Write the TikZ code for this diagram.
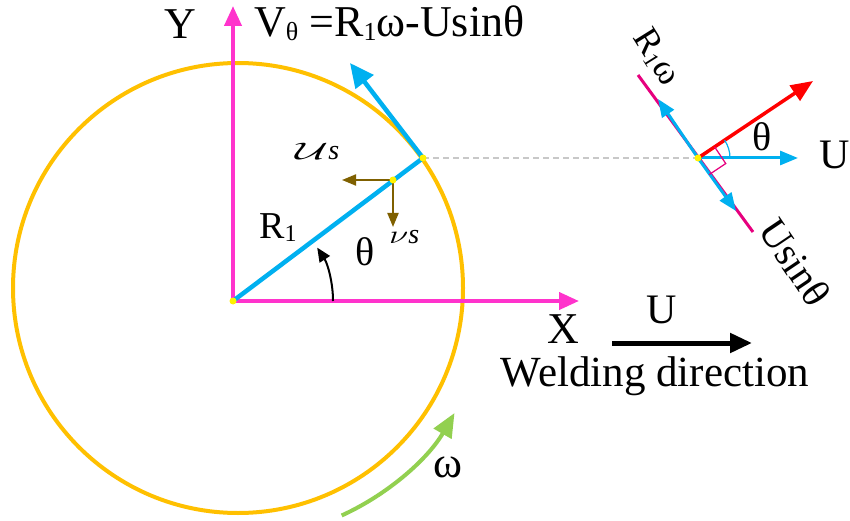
\documentclass[tikz,border=0pt]{standalone}
\usepackage{graphicx}
\usepackage{fontspec}
\setmainfont{Liberation Serif}
\usetikzlibrary{arrows.meta,calc}
\definecolor{axmag}{HTML}{FF33CC}
\definecolor{cblue}{HTML}{00B0F0}
\definecolor{corange}{HTML}{FFC000}
\definecolor{cbrown}{HTML}{7F6000}
\definecolor{cgreen}{HTML}{92D050}
\definecolor{cpink}{HTML}{E6007E}
\definecolor{cgrey}{HTML}{C8C8C8}
\newcommand{\fs}[1]{\fontsize{#1}{#1}\selectfont}
\newcommand{\lowsub}[2]{\raisebox{-0.08em}{\fs{#1}#2}}
\begin{document}
\begin{tikzpicture}[x=1pt,y=1pt,
  axis/.style={axmag,line width=4pt,-{Triangle[length=20pt,width=17pt]}},
  bluearr/.style={cblue,line width=4.5pt,-{Triangle[length=24pt,width=22pt]}},
  smallblue/.style={cblue,line width=3pt,-{Triangle[length=18pt,width=14pt]}},
  brownarr/.style={cbrown,line width=2pt,-{Triangle[length=14pt,width=11pt]}},
  ydot/.style={circle,fill=yellow,inner sep=0pt,minimum size=7pt},
  lbl/.style={inner sep=0pt,text=black}]
\useasboundingbox (0,0) rectangle (850,-521);
% key points
\coordinate (C) at (238,-288);
\coordinate (O) at (233,-301);
\coordinate (P) at (423,-158);
\coordinate (B) at (393,-180);
\coordinate (Q) at (698,-158);
\coordinate (Ytip) at (233,-6);
\coordinate (Xtip) at (579,-301);
\coordinate (Ttip) at (350,-63);
\coordinate (Bl) at (342,-180);
\coordinate (Bd) at (393,-227);
% circle
\draw[corange,line width=4pt] (C) circle[radius=225];
% axes
\draw[axis] (O) -- (Ytip);
\draw[axis] (O) -- (Xtip);
% dashed guide
\draw[cgrey,line width=1.8pt,dash pattern=on 6pt off 4pt] (P) -- (Q);
% radius line and tangent
\draw[cblue,line width=4.5pt] (O) -- (P);
\draw[bluearr] (P) -- (Ttip);
% brown components
\draw[brownarr] (B) -- (Bl);
\draw[brownarr] (B) -- (Bd);
% angle arrow
\draw[black,line width=2pt,-{Triangle[length=14pt,width=12pt]}] ($(O)+(0:100pt)$) arc[start angle=0,end angle=33,radius=98pt];
% omega arrow
\draw[cgreen,line width=4pt,-{Triangle[length=24pt,width=20pt]}] ($(C)+(-65.5:250pt)$) arc[start angle=-65.5,end angle=-30,radius=250pt];
% welding arrow
\coordinate (W1) at (612,-343);
\coordinate (W2) at (752,-343);
\draw[black,line width=5pt,-{Triangle[length=22pt,width=19pt]}] (W1) -- (W2);
% right figure
\coordinate (Pk1) at (638,-75);
\coordinate (Pk2) at (753,-232);
\coordinate (Rup) at (658,-99);
\coordinate (Rdn) at (736,-211);
\coordinate (Ur) at (798,-158);
\coordinate (Red) at (813,-81);
\draw[cpink,line width=3pt] (Pk1) -- (Pk2);
\draw[smallblue] (Q) -- (Rup);
\draw[smallblue] (Q) -- (Rdn);
\draw[smallblue] (Q) -- (Ur);
\draw[red,line width=3.5pt,-{Triangle[length=22pt,width=18pt]}] (Q) -- (Red);
\draw[cpink,line width=1.2pt] ($(Q)+(33.7:20pt)$) -- ($(Q)+(33.7:20pt)+(-56.3:20pt)$) -- ($(Q)+(-56.3:20pt)$);
\draw[cblue,line width=1.2pt] ($(Q)+(0:32pt)$) arc[start angle=0,end angle=33.7,radius=32pt];
% dots
\node[ydot] (dO) at (O) {};
\node[ydot] (dP) at (P) {};
\node[ydot] (dB) at (B) {};
\node[ydot] (dQ) at (Q) {};
% labels
\node[lbl,anchor=base] (lY) at (180,-39) {\fs{44}Y};
\node[lbl,anchor=base west] (lV) at (254,-37) {\fs{44}V\lowsub{26}{θ} =R\lowsub{26}{1}ω-Usinθ};
\node[lbl,anchor=base] (lX) at (563,-343) {\fs{44}X};
\node[lbl,anchor=base] (lU) at (662,-323) {\fs{42}U};
\node[lbl,anchor=base] (lW) at (655,-386) {\fs{43}Welding direction};
\node[lbl,anchor=base west] (lR) at (259,-238) {\fs{38}R\lowsub{24}{1}};
\node[lbl] (lth) at (365,-252) {\fs{40}θ};
\node[lbl,anchor=base west] (lus) at (295,-160) {\fs{20.74}\scalebox{2.2}[1.15]{$\mathcal{U}$}\fs{28}\itshape s};
\node[lbl,anchor=base west] (lvs) at (389,-243) {\fs{20.74}\scalebox{1.7}[1.25]{$\nu$}\fs{28}\itshape s};
\node[lbl] (lom) at (448,-467) {\fs{44}ω};
\node[lbl] (lth2) at (762,-137) {\fs{40}θ};
\node[lbl] (lU2) at (835,-155) {\fs{42}U};
\node[lbl,rotate=-58] (lRw) at (657,-57) {\fs{36}R\lowsub{22}{1}ω};
\node[lbl,rotate=-56] (lUs) at (795,-262) {\fs{40}Usinθ};
\end{tikzpicture}
\end{document}
